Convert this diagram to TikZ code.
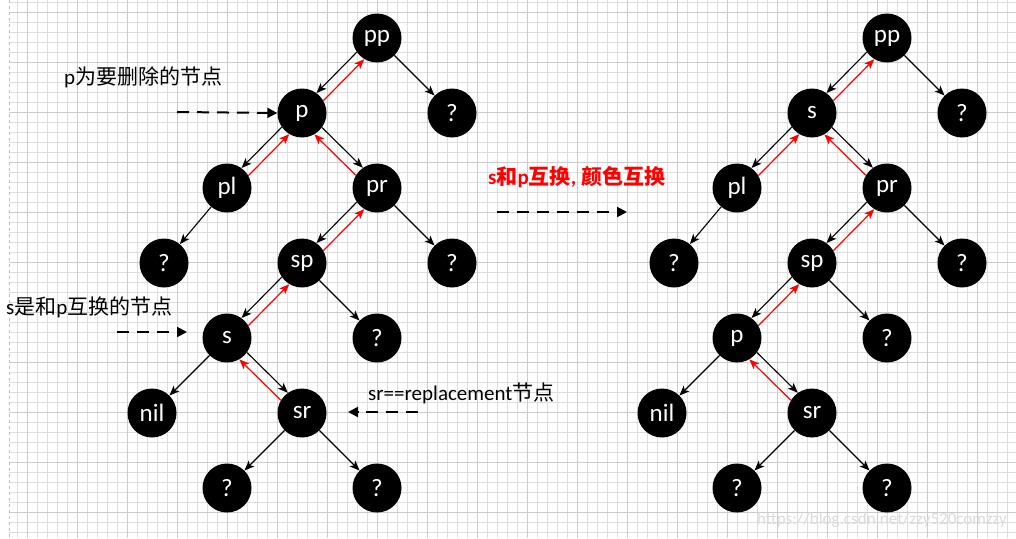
\documentclass[tikz,border=0pt]{standalone}
\usepackage{fontspec}
\setmainfont{Carlito}
\newfontfamily\cjk{Noto Sans CJK SC}
\newfontfamily\calibri{Carlito}
\usetikzlibrary{arrows.meta}
\tikzset{
  nd/.style={circle, fill=black, minimum size=49pt, inner sep=0pt, text=white,
    font=\calibri\fontsize{25}{25}\selectfont},
  blk/.style={draw=black, line width=1.1pt, -{Stealth[length=10pt,width=8pt,inset=2.5pt]}},
  rd/.style={draw=red, line width=1.2pt, -{Stealth[length=10pt,width=8pt,inset=2.5pt]}},
  dsh/.style={draw=black, line width=2pt, dash pattern=on 12pt off 8pt, -{Triangle[length=10pt,width=10pt]}},
  lbl/.style={anchor=west, inner sep=0pt, font=\calibri\fontsize{21}{21}\selectfont},
  minorg/.style={draw=black!13, line width=1pt},
  majorg/.style={draw=black!20, line width=1pt},
}
\newcommand\mylpair[2]{\draw[blk] (#1.215.6) -- (#2.54.4); \draw[rd] (#2.30.8) -- (#1.239.2);}
\newcommand\myrpair[2]{\draw[blk] (#1.324.4) -- (#2.125.6); \draw[rd] (#2.149.2) -- (#1.300.8);}
\begin{document}
\begin{tikzpicture}[x=1pt,y=-1pt]
\useasboundingbox (0,0) rectangle (1016,538);
\fill[white] (0,0) rectangle (1016,538);
% grid
\foreach \k in {0,...,53} {\draw[minorg] (9,2.7+10*\k) -- (1016,2.7+10*\k);}
\foreach \k in {0,...,99} {\draw[minorg] (17.3+10*\k,0) -- (17.3+10*\k,538);}
\foreach \k in {0,...,10} {\draw[majorg] (9,12.7+50*\k) -- (1016,12.7+50*\k);}
\foreach \k in {0,...,19} {\draw[majorg] (27.3+50*\k,0) -- (27.3+50*\k,538);}
\draw[black!25, line width=0.8pt, dash pattern=on 3pt off 3pt] (9,0) -- (9,538);

% ---------- left tree ----------
\node[nd] (Lpp) at (377,38) {pp};
\node[nd] (Lp)  at (302,113) {p};
\node[nd] (Lq1) at (452,113) {?};
\node[nd] (Lpl) at (227,188) {pl};
\node[nd] (Lpr) at (377,188) {pr};
\node[nd] (Lq2) at (164,263) {?};
\node[nd] (Lsp) at (302,263) {sp};
\node[nd] (Lq3) at (452,263) {?};
\node[nd] (Ls)  at (227,338) {s};
\node[nd] (Lq4) at (377,338) {?};
\node[nd] (Lnil) at (152,413) {nil};
\node[nd] (Lsr) at (302,413) {sr};
\node[nd] (Lq5) at (227,488) {?};
\node[nd] (Lq6) at (377,488) {?};

\mylpair{Lpp}{Lp}
\draw[blk] (Lpp) -- (Lq1);
\mylpair{Lp}{Lpl}
\myrpair{Lp}{Lpr}
\draw[blk] (Lpl) -- (Lq2);
\mylpair{Lpr}{Lsp}
\draw[blk] (Lpr) -- (Lq3);
\mylpair{Lsp}{Ls}
\draw[blk] (Lsp) -- (Lq4);
\draw[blk] (Ls) -- (Lnil);
\myrpair{Ls}{Lsr}
\draw[blk] (Lsr) -- (Lq5);
\draw[blk] (Lsr) -- (Lq6);

% ---------- right tree ----------
\node[nd] (Rpp) at (887,38) {pp};
\node[nd] (Rs)  at (812,113) {s};
\node[nd] (Rq1) at (962,113) {?};
\node[nd] (Rpl) at (737,188) {pl};
\node[nd] (Rpr) at (887,188) {pr};
\node[nd] (Rq2) at (674,263) {?};
\node[nd] (Rsp) at (812,263) {sp};
\node[nd] (Rq3) at (962,263) {?};
\node[nd] (Rp)  at (737,338) {p};
\node[nd] (Rq4) at (887,338) {?};
\node[nd] (Rnil) at (662,413) {nil};
\node[nd] (Rsr) at (812,413) {sr};
\node[nd] (Rq5) at (737,488) {?};
\node[nd] (Rq6) at (887,488) {?};

\mylpair{Rpp}{Rs}
\draw[blk] (Rpp) -- (Rq1);
\mylpair{Rs}{Rpl}
\myrpair{Rs}{Rpr}
\draw[blk] (Rpl) -- (Rq2);
\mylpair{Rpr}{Rsp}
\draw[blk] (Rpr) -- (Rq3);
\mylpair{Rsp}{Rp}
\draw[blk] (Rsp) -- (Rq4);
\draw[blk] (Rp) -- (Rnil);
\myrpair{Rp}{Rsr}
\draw[blk] (Rsr) -- (Rq5);
\draw[blk] (Rsr) -- (Rq6);

% ---------- annotations ----------
\node[lbl] (t1) at (64,77) {p{\cjk 为要删除的节点}};
\coordinate (a1s) at (177,112);
\draw[dsh] (a1s) -- (Lp.west);
\node[lbl] (t2) at (6,307) {s{\cjk 是和}p{\cjk 互换的节点}};
\coordinate (a2s) at (117,332);
\coordinate (a2e) at (187,332);
\draw[dsh] (a2s) -- (a2e);
\node[lbl] (t3) at (368,393) {sr==replacement{\cjk 节点}};
\coordinate (a3s) at (418,412);
\coordinate (a3e) at (348,412);
\draw[dsh] (a3s) -- (a3e);
\node[lbl, text=red, font=\calibri\bfseries\fontsize{21}{21}\selectfont] (t4) at (488,177) {s{\cjk\bfseries 和}p{\cjk\bfseries 互换}, {\cjk\bfseries 颜色互换}};
\coordinate (a4s) at (497,212);
\coordinate (a4e) at (627,212);
\draw[dsh] (a4s) -- (a4e);

\node[anchor=west, inner sep=0pt, text=black!14, font=\calibri\fontsize{17}{17}\selectfont] (wm) at (757,520) {https://blog.csdn.net/zzy520comzzy};
\end{tikzpicture}
\end{document}
